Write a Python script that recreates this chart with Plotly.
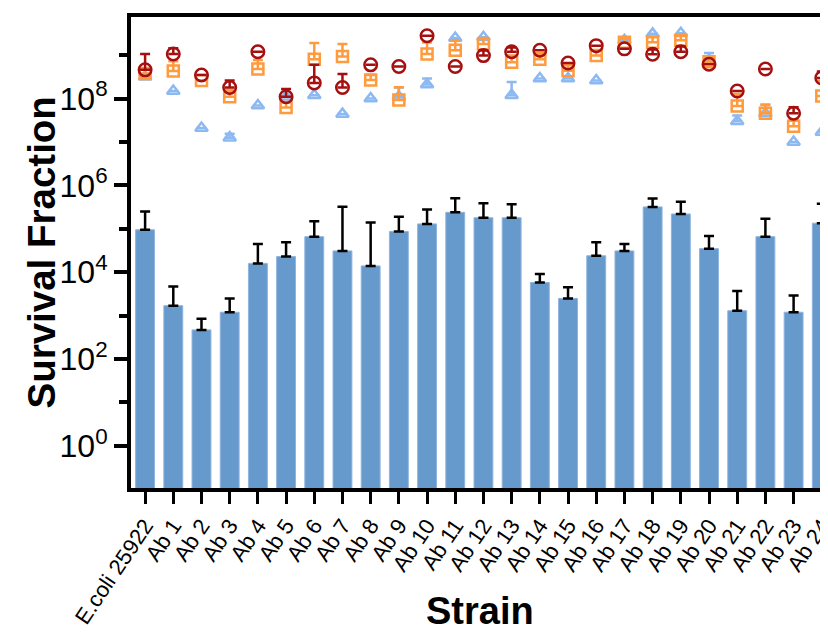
import plotly.graph_objects as go

strains = ["E.coli 25922"] + [f"Ab {i}" for i in range(1, 25)]

# Bars: survival fraction (mean) and upper error (SD)
bar_mean = [9.5e4, 1.7e3, 470, 1.2e3, 1.6e4, 2.3e4, 6.6e4, 3.1e4, 1.4e4, 8.7e4,
            1.3e5, 2.4e5, 1.8e5, 1.8e5, 5.8e3, 2.5e3, 2.4e4, 3.1e4, 3.2e5, 2.2e5,
            3.5e4, 1.3e3, 6.6e4, 1.2e3, 1.35e5]
bar_sd = [1.55e5, 3.0e3, 380, 1.3e3, 2.9e4, 2.6e4, 8.4e4, 2.9e5, 1.26e5, 1.03e5,
          1.5e5, 2.7e5, 2.1e5, 1.9e5, 3.3e3, 2.0e3, 2.5e4, 1.4e4, 1.8e5, 2.0e5,
          3.3e4, 2.4e3, 1.04e5, 1.7e3, 2.45e5]

# Circles (dark red)
circ_mean = [4.6e8, 1.07e9, 3.5e8, 1.8e8, 1.2e9, 1.1e8, 2.3e8, 1.8e8, 6.0e8, 5.5e8,
             2.8e9, 5.5e8, 9.8e8, 1.2e9, 1.3e9, 6.6e8, 1.66e9, 1.4e9, 1.05e9, 1.2e9,
             6.2e8, 1.5e8, 4.8e8, 4.6e7, 3.0e8]
circ_sd = [6.1e8, 3.8e8, 0, 8e7, 0, 5.6e7, 3.7e8, 1.9e8, 0, 0,
           0, 0, 3e8, 3e8, 0, 0, 0, 0, 3e8, 3.8e8,
           0, 0, 0, 1.7e7, 1.2e8]

# Squares (orange)
sq_mean = [3.8e8, 4.3e8, 2.6e8, 1.1e8, 4.8e8, 6.2e7, 8.1e8, 9.3e8, 2.7e8, 9.3e7,
           1.07e9, 1.3e9, 1.8e9, 6.9e8, 8.1e8, 4.4e8, 9.8e8, 2.0e9, 2.0e9, 2.2e9,
           7.1e8, 6.8e7, 4.6e7, 2.3e7, 1.15e8]
sq_sd = [0, 3e8, 0, 5e7, 3e8, 2e7, 1.1e9, 8.7e8, 8e7, 9e7,
         9e8, 9e8, 7e8, 3e8, 3e8, 1.6e8, 3e8, 4e8, 6e8, 6e8,
         2e8, 6e7, 2.5e7, 9e6, 1.4e8]

# Triangles (light blue)
tri_mean = [3.2e8, 1.5e8, 2.1e7, 1.26e7, 6.9e7, 1.1e8, 1.2e8, 4.4e7, 1.0e8, 1.1e8,
            2.1e8, 2.5e9, 2.6e9, 1.2e8, 2.9e8, 2.9e8, 2.6e8, 2.2e9, 3.1e9, 3.2e9,
            7.8e8, 3.0e7, 4.6e7, 1.0e7, 1.7e7]
tri_sd = [0, 0, 0, 3e6, 0, 0, 0, 0, 0, 7e7,
          8e7, 0, 0, 1.2e8, 0, 0, 0, 0, 0, 0,
          3.4e8, 1.1e7, 2.7e7, 0, 0]

ytick_vals = [1, 1e2, 1e4, 1e6, 1e8]
ytick_text = ["10<sup>0</sup>", "10<sup>2</sup>", "10<sup>4</sup>", "10<sup>6</sup>", "10<sup>8</sup>"]
yminor_vals = [1e1, 1e3, 1e5, 1e7, 1e9]

FONT = "Liberation Sans, Arial, sans-serif"

fig = go.Figure()
fig.add_trace(go.Bar(
    x=strains, y=bar_mean, width=0.67,
    marker=dict(color="#6699CC", line=dict(color="#8FB4DE", width=1)),
    error_y=dict(type="data", array=bar_sd, arrayminus=[0] * len(bar_sd), symmetric=False,
                 color="black", thickness=2.5, width=5),
    showlegend=False,
))

def add_pts(mean, sd, symbol, color, size):
    fig.add_trace(go.Scatter(
        x=strains, y=mean, mode="markers",
        marker=dict(symbol=symbol, size=size, color=color,
                    line=dict(color=color, width=2.5)),
        error_y=dict(type="data", array=sd, arrayminus=[0] * len(sd), symmetric=False,
                     color=color, thickness=2.5, width=5),
        showlegend=False,
    ))

add_pts(tri_mean, tri_sd, "triangle-up-open", "#8DB9F2", 11)
add_pts(sq_mean, sq_sd, "square-open", "#FF9A3D", 11)
add_pts(circ_mean, circ_sd, "circle-open", "#A50F0F", 12.5)

fig.update_layout(
    width=828, height=632,
    margin=dict(l=123, r=8, t=9, b=152),
    plot_bgcolor="white", paper_bgcolor="white",
    font=dict(family=FONT, color="black"),
    annotations=[
        dict(text="<b>Survival Fraction</b>", xref="paper", yref="paper",
             x=-0.1277, y=0.5, xanchor="center", yanchor="middle", textangle=-90,
             showarrow=False, font=dict(size=38.5, family=FONT, color="black")),
        dict(text="<b>Strain</b>", xref="paper", yref="paper",
             x=0.5, y=-0.261, xanchor="center", yanchor="middle",
             showarrow=False, font=dict(size=38, family=FONT, color="black")),
    ],
)
fig.update_xaxes(
    range=[-0.5, 24.22], automargin=False,
    showline=True, linecolor="black", linewidth=4, mirror=True,
    ticks="outside", ticklen=12, tickwidth=3, tickcolor="black",
    tickangle=-56, tickfont=dict(size=22, family=FONT),
    showgrid=False, zeroline=False,
)
fig.update_yaxes(
    type="log", range=[-0.97, 9.88], automargin=False,
    showline=True, linecolor="black", linewidth=4, mirror=False,
    tickvals=ytick_vals, ticktext=ytick_text,
    ticks="outside", ticklen=13, tickwidth=3.5, tickcolor="black",
    tickfont=dict(size=32, family=FONT),
    minor=dict(tickvals=yminor_vals, ticks="outside", ticklen=8,
               tickwidth=3.5, tickcolor="black", showgrid=False),
    showgrid=False, zeroline=False,
)

fig.write_html("out.html")
